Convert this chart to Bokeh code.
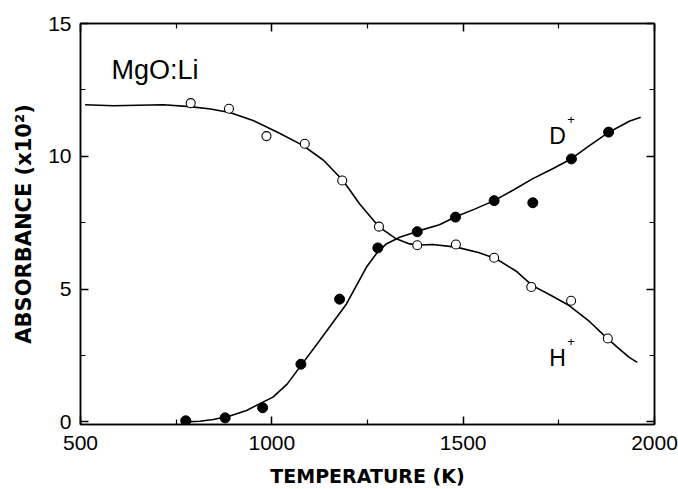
from bokeh.plotting import figure
from bokeh.models import LinearAxis, FixedTicker, Range1d, Label
from bokeh.embed import file_html
from bokeh.resources import INLINE

# ---- data ----
# H+ (open circles)
h_x = [788, 888, 986, 1086, 1184, 1280, 1380, 1481, 1581, 1678, 1782, 1878]
h_y = [12.00, 11.79, 10.76, 10.47, 9.09, 7.35, 6.65, 6.68, 6.18, 5.08, 4.56, 3.14]
# D+ (filled circles)
d_x = [775, 878, 976, 1076, 1177, 1277, 1380, 1480, 1581, 1682, 1783, 1880]
d_y = [0.04, 0.15, 0.53, 2.17, 4.62, 6.55, 7.16, 7.71, 8.33, 8.25, 9.90, 10.91]
# fitted curves
hc_x = [512, 586, 650, 716, 786, 840, 890, 951, 1020, 1081, 1135, 1186, 1229, 1281,
        1325, 1360, 1390, 1420, 1482, 1540, 1586, 1640, 1681, 1730, 1777, 1830,
        1873, 1910, 1934, 1955]
hc_y = [11.94, 11.90, 11.92, 11.94, 11.87, 11.78, 11.65, 11.35, 10.87, 10.41, 9.85,
        9.09, 8.21, 7.33, 6.89, 6.70, 6.66, 6.68, 6.58, 6.38, 6.14, 5.66, 5.13,
        4.76, 4.38, 3.78, 3.19, 2.72, 2.43, 2.24]
dc_x = [775, 812, 847, 890, 934, 1003, 1040, 1073, 1125, 1195, 1247, 1273, 1299,
        1334, 1386, 1438, 1482, 1530, 1581, 1630, 1681, 1730, 1782, 1830, 1881,
        1910, 1934, 1964]
dc_y = [0.00, 0.02, 0.09, 0.22, 0.43, 0.93, 1.42, 2.06, 3.06, 4.44, 5.82, 6.33,
        6.70, 6.95, 7.20, 7.42, 7.73, 8.01, 8.33, 8.72, 9.15, 9.50, 9.90, 10.40,
        10.91, 11.13, 11.32, 11.47]

x_ticks = [500, 1000, 1500, 2000]
x_minor = [750, 1250, 1750]
y_ticks = [0, 5, 10, 15]
y_minor = [2.5, 7.5, 12.5]

FONT = "Liberation Sans"

p = figure(width=678, height=489, x_range=Range1d(500, 2000), y_range=Range1d(-0.1, 15),
           output_backend="svg", toolbar_location=None,
           min_border_left=80, min_border_right=24, min_border_top=23, min_border_bottom=65)
p.grid.visible = False
p.outline_line_color = "black"
p.outline_line_width = 1.5
p.background_fill_color = "white"
p.border_fill_color = "white"


def style_axis(ax):
    ax.axis_line_color = "black"
    ax.axis_line_width = 1.5
    ax.major_tick_line_color = "black"
    ax.minor_tick_line_color = "black"
    ax.major_tick_line_width = 1.5
    ax.minor_tick_line_width = 1.2
    ax.major_tick_in = 8
    ax.major_tick_out = 0
    ax.minor_tick_in = 5
    ax.minor_tick_out = 0
    ax.major_label_text_font = FONT
    ax.major_label_text_font_size = "21px"
    ax.major_label_text_color = "black"
    ax.axis_label_text_font = "DejaVu Sans"
    ax.axis_label_text_font_size = "21px"
    ax.axis_label_text_font_style = "bold"
    ax.axis_label_text_color = "black"


xa = p.xaxis[0]
xa.ticker = FixedTicker(ticks=x_ticks, minor_ticks=x_minor)
style_axis(xa)
xa.axis_label = "TEMPERATURE (K)"
xa.axis_label_text_font_size = "19px"
xa.major_label_standoff = 11
xa.axis_label_standoff = 12

ya = p.yaxis[0]
ya.ticker = FixedTicker(ticks=y_ticks, minor_ticks=y_minor)
style_axis(ya)
ya.axis_label = "ABSORBANCE (x10²)"
ya.major_label_standoff = 9
ya.axis_label_standoff = 9

ra = LinearAxis(ticker=FixedTicker(ticks=y_ticks, minor_ticks=y_minor),
                major_label_overrides={t: "" for t in y_ticks})
style_axis(ra)
p.add_layout(ra, "right")
ta = LinearAxis(ticker=FixedTicker(ticks=x_ticks, minor_ticks=x_minor),
                major_label_overrides={t: "" for t in x_ticks})
style_axis(ta)
p.add_layout(ta, "above")

p.line(hc_x, hc_y, line_color="black", line_width=1.6)
p.line(dc_x, dc_y, line_color="black", line_width=1.6)
p.scatter(h_x, h_y, marker="circle", size=9, fill_color="white", line_color="black", line_width=1.1)
p.scatter(d_x, d_y, marker="circle", size=10, fill_color="black", line_color="black")


def lab(x, y, t, size):
    p.add_layout(Label(x=x, y=y, text=t, text_font=FONT, text_font_size=size,
                       text_color="black", text_baseline="alphabetic", text_align="left"))


lab(581, 13.26, "MgO:Li", "27px")
lab(1725, 10.78, "D", "23px")
lab(1772, 11.38, "+", "13px")
lab(1725, 2.40, "H", "23px")
lab(1772, 3.02, "+", "13px")

open("out.html", "w").write(file_html(p, INLINE))
